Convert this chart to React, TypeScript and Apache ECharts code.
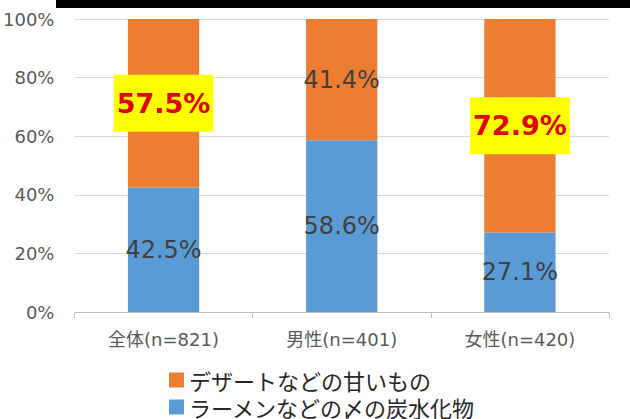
import React, { useEffect, useRef } from "react";
import * as echarts from "echarts";

const categories = ["全体(n=821)", "男性(n=401)", "女性(n=420)"];
const seriesNames = ["ラーメンなどの〆の炭水化物", "デザートなどの甘いもの"];
const carbValues = [42.5, 58.6, 27.1];
const sweetValues = [57.5, 41.4, 72.9];
const highlightedSweet = [true, false, true];
const yTicks = { min: 0, max: 100, interval: 20 };

const FONT = "'DejaVu Sans', 'Noto Sans CJK JP', sans-serif";
const CJK = "'Noto Sans CJK JP', sans-serif";

export default function App() {
  const ref = useRef<HTMLDivElement>(null);
  useEffect(() => {
    if (!ref.current) return;
    const chart = echarts.init(ref.current, undefined, { renderer: "svg" });
    const highlightLabel = {
      backgroundColor: "#FFFF00",
      color: "#E00000",
      fontWeight: "bold" as const,
      fontSize: 27,
      padding: [15, 3],
    };
    chart.setOption({
      animation: false,
      textStyle: { fontFamily: FONT },
      graphic: [
        {
          type: "rect",
          shape: { x: 56, y: 0, width: 574, height: 8 },
          style: { fill: "#000000" },
          z: 100,
        },
      ],
      grid: { left: 72, right: 21, top: 19, bottom: 107, containLabel: false },
      legend: {
        orient: "vertical",
        left: 164,
        top: 364,
        height: 80,
        itemWidth: 15,
        itemHeight: 15,
        itemGap: 5,
        icon: "rect",
        data: [seriesNames[1], seriesNames[0]],
        textStyle: { fontSize: 22, lineHeight: 22, color: "#262626", fontFamily: CJK },
      },
      xAxis: {
        type: "category",
        data: categories,
        axisLine: { lineStyle: { color: "#BFBFBF", width: 1 } },
        axisTick: { show: true, length: 6, lineStyle: { color: "#BFBFBF" } },
        axisLabel: { fontSize: 18, color: "#595959", margin: 18, fontFamily: FONT },
      },
      yAxis: {
        type: "value",
        min: yTicks.min,
        max: yTicks.max,
        interval: yTicks.interval,
        axisLine: { show: false },
        axisTick: { show: false },
        splitLine: { lineStyle: { color: "#D9D9D9", width: 1 } },
        axisLabel: {
          formatter: "{value}%",
          fontSize: 18,
          color: "#595959",
          margin: 20,
          fontFamily: FONT,
        },
      },
      series: [
        {
          name: seriesNames[0],
          type: "bar",
          stack: "total",
          barWidth: "40%",
          itemStyle: { color: "#5B9BD5" },
          label: {
            show: true,
            position: "inside",
            formatter: "{c}%",
            fontSize: 24,
            color: "#404040",
            fontFamily: FONT,
          },
          data: carbValues,
        },
        {
          name: seriesNames[1],
          type: "bar",
          stack: "total",
          barWidth: "40%",
          itemStyle: { color: "#ED7D31" },
          label: {
            show: true,
            position: "inside",
            formatter: "{c}%",
            fontSize: 24,
            color: "#404040",
            fontFamily: FONT,
          },
          data: sweetValues.map((v, i) =>
            highlightedSweet[i] ? { value: v, label: highlightLabel } : { value: v }
          ),
        },
      ],
    });
    return () => chart.dispose();
  }, []);
  return (
    <div
      ref={ref}
      style={{ position: "fixed", left: 0, top: 0, width: 630, height: 419, background: "#fff" }}
    />
  );
}
